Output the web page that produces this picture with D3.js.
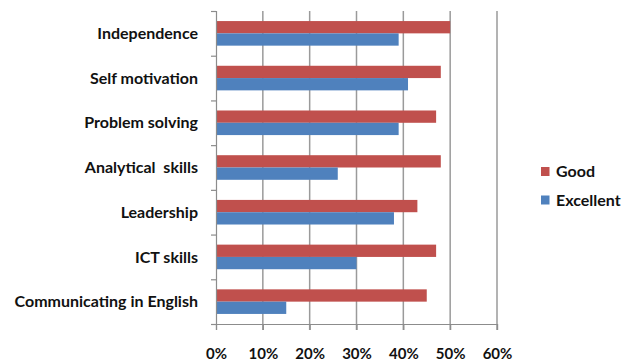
<!DOCTYPE html>
<html>
<head>
<meta charset="utf-8">
<script src="https://cdn.jsdelivr.net/npm/d3@7"></script>
<style>
  html, body { margin: 0; padding: 0; background: #fff; }
  svg { display: block; }
  text { font-family: Lato, "Open Sans", sans-serif; font-weight: bold; fill: #111; }
</style>
</head>
<body>
<svg id="chart" width="630" height="362"></svg>
<script>
// Skills ratings by category (share of respondents)
const categories = [
  "Independence",
  "Self motivation",
  "Problem solving",
  "Analytical  skills",
  "Leadership",
  "ICT skills",
  "Communicating in English"
];
const seriesNames = ["Good", "Excellent"];
const goodValues = [0.50, 0.48, 0.47, 0.48, 0.43, 0.47, 0.45];
const excellentValues = [0.39, 0.41, 0.39, 0.26, 0.38, 0.30, 0.15];
const xTickValues = [0, 0.1, 0.2, 0.3, 0.4, 0.5, 0.6];

const colors = { "Good": "#C0504D", "Excellent": "#4F81BD" };
const seriesValues = { "Good": goodValues, "Excellent": excellentValues };

const svg = d3.select("#chart");
const plot = { left: 216, right: 497, top: 11, bottom: 324 };

const x = d3.scaleLinear().domain([0, 0.6]).range([plot.left, plot.right]);
const y = d3.scaleBand().domain(categories).range([plot.top, plot.bottom])
  .paddingInner(0.45).paddingOuter(0.225);
const ySeries = d3.scaleBand().domain(seriesNames).range([0, y.bandwidth()]);

// vertical gridlines (extend slightly below the axis as tick marks)
svg.append("g")
  .selectAll("line")
  .data(xTickValues.slice(1))
  .join("line")
  .attr("x1", d => x(d)).attr("x2", d => x(d))
  .attr("y1", plot.top).attr("y2", plot.bottom + 6)
  .attr("stroke", "#9a9a9a").attr("stroke-width", 1.5);

// bars
const rows = categories.map((c, i) => ({ cat: c, i }));
const groups = svg.append("g").selectAll("g")
  .data(rows).join("g")
  .attr("transform", d => `translate(0,${y(d.cat)})`);

groups.selectAll("rect")
  .data(d => seriesNames.map(s => ({ s, v: seriesValues[s][d.i] })))
  .join("rect")
  .attr("x", x(0))
  .attr("y", d => ySeries(d.s))
  .attr("width", d => x(d.v) - x(0))
  .attr("height", ySeries.bandwidth())
  .attr("fill", d => colors[d.s]);

// bottom axis
const xAxis = d3.axisBottom(x).tickValues(xTickValues)
  .tickFormat(d3.format(".0%")).tickSize(6).tickPadding(18);
const gx = svg.append("g").attr("transform", `translate(0,${plot.bottom})`).call(xAxis);
gx.select(".domain").attr("stroke", "#8c8c8c").attr("stroke-width", 1.2);
gx.selectAll(".tick line").attr("stroke", "#8c8c8c").attr("stroke-width", 1.2);
gx.selectAll(".tick text").attr("font-size", 15).attr("font-family", "Lato, sans-serif")
  .attr("font-weight", "bold").attr("fill", "#111");

// left axis with ticks at category boundaries
const bScale = d3.scaleLinear().domain([0, categories.length]).range([plot.top, plot.bottom]);
const gy = svg.append("g").attr("transform", `translate(${plot.left},0)`)
  .call(d3.axisLeft(bScale).ticks(categories.length).tickSize(5).tickFormat(""));
gy.select(".domain").attr("stroke", "#8c8c8c").attr("stroke-width", 1.2);
gy.selectAll(".tick line").attr("stroke", "#8c8c8c").attr("stroke-width", 1.2);

// category labels
svg.append("g").selectAll("text")
  .data(categories).join("text")
  .attr("x", 198)
  .attr("y", d => y(d) + y.bandwidth() / 2)
  .attr("dy", "0.35em")
  .attr("text-anchor", "end")
  .attr("font-size", 16)
  .style("white-space", "pre")
  .text(d => d);

// legend
const legend = svg.append("g").attr("transform", "translate(541,167)");
const li = legend.selectAll("g").data(seriesNames).join("g")
  .attr("transform", (d, i) => `translate(0,${i * 28.5})`);
li.append("rect").attr("width", 8.5).attr("height", 9).attr("fill", d => colors[d]);
li.append("text").attr("x", 15).attr("y", 4.5).attr("dy", "0.35em")
  .attr("font-size", 16).text(d => d);
</script>
</body>
</html>
